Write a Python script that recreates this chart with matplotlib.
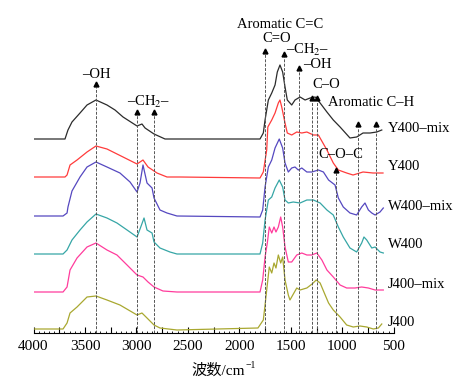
import matplotlib
matplotlib.use("Agg")
import matplotlib.pyplot as plt
from matplotlib.ticker import MultipleLocator, FuncFormatter

plt.rcParams['font.family'] = ['Liberation Serif', 'Noto Sans CJK SC', 'DejaVu Sans']
plt.rcParams['mathtext.fontset'] = 'stix'

# ---- data: wavenumber (cm^-1) and stacked intensity (arbitrary units) ----
y400mix_wn = [4000, 3694, 3665, 3626, 3548, 3480, 3393, 3286, 3208, 3130, 2994, 2946, 2916, 2829, 2722, 2577,
              1799, 1767, 1750, 1718, 1685, 1653, 1631, 1605, 1579, 1556, 1534, 1491, 1459, 1410, 1361, 1312,
              1263, 1215, 1149, 1087, 1021, 925, 860, 798, 730, 665, 616]
y400mix_v = [194, 194, 203, 211, 220, 228, 233, 228, 223, 216, 207, 209, 205, 199, 194, 194,
             194, 200, 213, 233, 240, 248, 261, 268, 261, 246, 233, 228, 233, 236, 233, 235,
             236, 230, 221, 213, 206, 195, 196, 200, 200, 201, 203]

y400_wn = [4000, 3694, 3674, 3645, 3577, 3480, 3393, 3286, 3130, 2994, 2936, 2887, 2800, 2703, 2577,
           1799, 1767, 1734, 1723, 1685, 1653, 1621, 1605, 1588, 1556, 1534, 1491, 1442, 1393, 1344, 1280,
           1232, 1149, 1087, 1038, 957, 895, 798, 701, 604]
y400_v = [156, 156, 158, 168, 173, 181, 187, 184, 176, 169, 173, 166, 160, 156, 156,
          155, 161, 183, 206, 213, 220, 230, 233, 226, 210, 200, 198, 201, 200, 201, 198,
          198, 183, 170, 163, 160, 158, 161, 160, 160]

w400mix_wn = [4000, 3713, 3674, 3665, 3626, 3548, 3480, 3393, 3286, 3160, 3062, 2994, 2965, 2936, 2897, 2848,
              2829, 2771, 2703, 2606,
              1799, 1773, 1750, 1718, 1685, 1653, 1612, 1579, 1556, 1524, 1491, 1459, 1427, 1393, 1344, 1296,
              1232, 1183, 1133, 1070, 1038, 990, 925, 860, 811, 779, 746, 713, 681, 633, 601]
w400mix_v = [117, 117, 120, 126, 142, 156, 166, 171, 166, 160, 151, 141, 150, 168, 150, 145,
             135, 123, 120, 117,
             116, 123, 146, 166, 173, 185, 194, 185, 170, 161, 165, 166, 163, 165, 161, 161,
             163, 161, 153, 148, 135, 126, 120, 118, 126, 130, 123, 120, 118, 121, 125]

w400_wn = [4000, 3713, 3674, 3626, 3548, 3480, 3393, 3286, 3189, 3091, 2994, 2965, 2926, 2897, 2848, 2829,
           2771, 2674, 2606,
           1799, 1773, 1750, 1718, 1685, 1653, 1612, 1579, 1556, 1524, 1476, 1410, 1344, 1280, 1215, 1149,
           1087, 1038, 990, 925, 860, 811, 789, 762, 713, 681, 633, 601]
w400_v = [79, 79, 83, 93, 103, 111, 119, 115, 110, 103, 96, 104, 115, 103, 100, 91,
          85, 81, 79,
          79, 90, 113, 133, 136, 145, 153, 146, 133, 130, 131, 130, 133, 133, 130, 123,
          118, 106, 96, 85, 81, 90, 96, 93, 85, 86, 81, 80]

j400mix_wn = [4000, 3713, 3674, 3645, 3577, 3480, 3393, 3286, 3189, 3091, 2994, 2936, 2887, 2829, 2742, 2606,
              1799, 1773, 1750, 1728, 1709, 1685, 1663, 1644, 1621, 1598, 1579, 1556, 1524, 1491, 1442, 1393,
              1344, 1296, 1247, 1198, 1149, 1087, 1021, 957, 876, 811, 746, 681, 601]
j400mix_v = [41, 41, 46, 63, 75, 86, 90, 83, 78, 68, 58, 56, 51, 46, 42, 41,
             41, 53, 76, 90, 106, 100, 106, 101, 106, 116, 106, 86, 71, 71, 78, 80,
             78, 78, 80, 73, 63, 56, 48, 45, 45, 46, 45, 43, 43]

j400_wn = [4000, 3713, 3674, 3645, 3577, 3480, 3393, 3286, 3160, 2994, 2946, 2897, 2829, 2771, 2606,
           1819, 1767, 1750, 1734, 1709, 1685, 1663, 1644, 1621, 1598, 1579, 1556, 1524, 1508, 1442, 1410,
           1344, 1293, 1253, 1215, 1166, 1133, 1087, 1021, 957, 893, 828, 762, 698, 649, 616]
j400_v = [4, 4, 10, 20, 26, 36, 37, 33, 28, 18, 20, 15, 8, 5, 3,
          5, 13, 28, 43, 66, 60, 70, 65, 78, 70, 76, 53, 38, 33, 45, 43,
          45, 49, 53, 50, 38, 30, 23, 16, 8, 6, 7, 6, 4, 5, 9]

series = [
    ("Y400–mix", y400mix_wn, y400mix_v, "#2b2b2b", 205),
    ("Y400", y400_wn, y400_v, "#ff3b3b", 166),
    ("W400–mix", w400mix_wn, w400mix_v, "#5548c0", 126),
    ("W400", w400_wn, w400_v, "#36a6a6", 88),
    ("J400–mix", j400mix_wn, j400mix_v, "#ff3c9c", 48),
    ("J400", j400_wn, j400_v, "#a9a830", 10),
]

# marker lines: (wavenumber, top height)
mark_wn = [3393, 2994, 2829, 1750, 1563, 1418, 1296, 1247, 1060, 844, 672]
mark_top = [251, 223, 223, 284, 281, 267, 237, 237, 165, 211, 211]

# annotation labels: (text, wavenumber, height, ha)
ann_text = ["–OH", "–CH$_2$–", "Aromatic C=C", "C=O", "–CH$_2$–", "–OH", "C–O", "Aromatic C–H", "C–O–C"]
ann_wn = [3393, 2886, 1605, 1637, 1546, 1381, 1157, 716, 1012]
ann_h = [259, 231, 308, 294, 283, 268, 248, 230, 178]
ann_ha = ["center", "center", "center", "center", "left", "left", "center", "center", "center"]

label_wn = 555

fig = plt.figure(figsize=(4.67, 3.86), dpi=100)
ax = fig.add_axes([33.5 / 467, 1 - 333 / 386, (393.7 - 33.5) / 467, 323 / 386])
ax.set_xlim(4000, 500)
ax.set_ylim(0, 323)

for name, wn, v, c, ly in series:
    ax.plot(wn, v, color=c, lw=0.9)
    ax.text(label_wn, ly, name, color="black", fontsize=10.5, ha="left", va="center", clip_on=False)

for w, t in zip(mark_wn, mark_top):
    ax.plot([w, w], [0, t - 5], color="#555555", lw=0.7, ls=(0, (3, 1.5)))
    ax.plot([w], [t - 2], marker="^", color="black", markersize=3.5, clip_on=False)

for s, w, h, ha in zip(ann_text, ann_wn, ann_h, ann_ha):
    ax.text(w, h, s, fontsize=10.5, ha=ha, va="center", color="black")

for sp in ["left", "right", "top"]:
    ax.spines[sp].set_visible(False)
ax.spines["bottom"].set_linewidth(0.8)
ax.set_yticks([])
ax.xaxis.set_major_locator(MultipleLocator(250))
ax.xaxis.set_minor_locator(MultipleLocator(50))
ax.xaxis.set_major_formatter(FuncFormatter(lambda x, p: f"{int(round(x))}" if int(round(x)) % 500 == 0 else ""))
ax.tick_params(axis="x", which="major", direction="in", length=4, width=0.8, pad=5, labelsize=11)
ax.tick_params(axis="x", which="minor", direction="in", length=1.5, width=0.6)

# x-axis title: main part (CJK falls back to Noto), superscript as small raised text
t1 = fig.text(0.5, 1 - 371 / 386, "波数/cm", ha="left", va="center", fontsize=11,
              family=['Liberation Serif', 'Noto Sans CJK SC', 'DejaVu Sans'])
fig.canvas.draw()
bb = t1.get_window_extent()
w_main = bb.width
x0 = 222 - (w_main + 8) / 2
t1.set_position((x0 / 467, 1 - 371 / 386))
fig.text((x0 + w_main + 0.5) / 467, 1 - 366 / 386, "−1", ha="left", va="center", fontsize=7,
         family=['Liberation Serif', 'DejaVu Sans'])

fig.savefig("out.png", dpi=100)
